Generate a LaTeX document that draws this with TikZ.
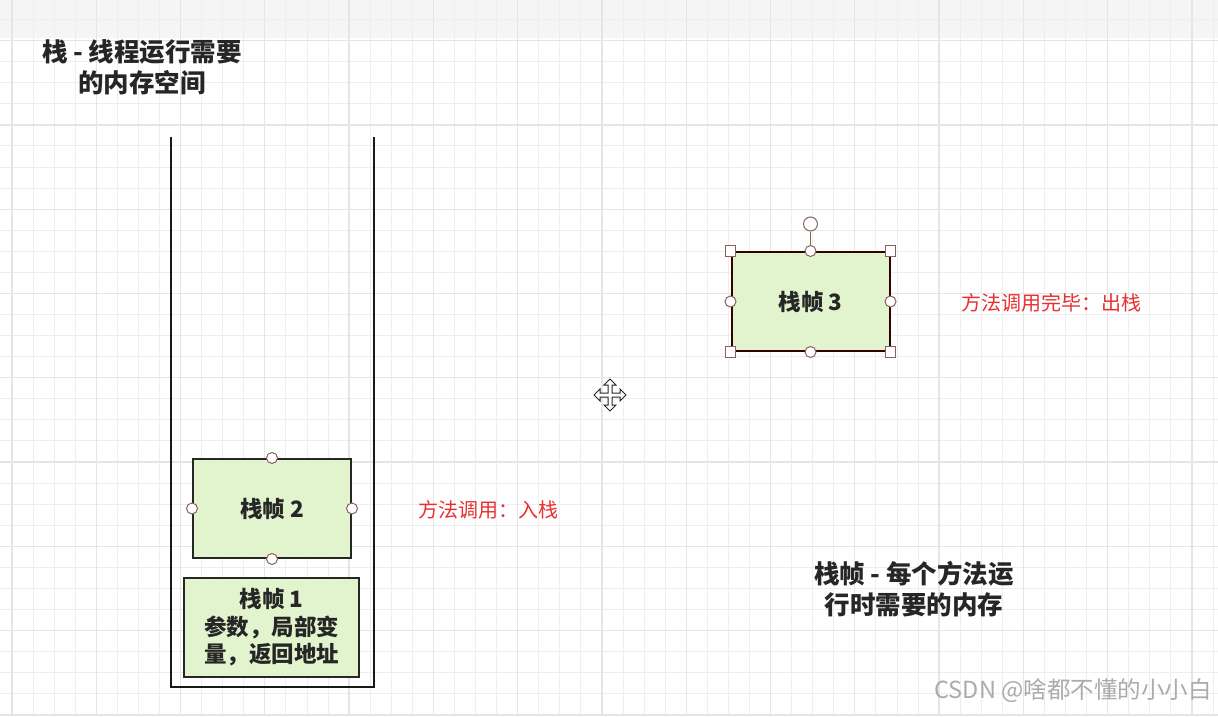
\documentclass[tikz,border=0pt]{standalone}
\usepackage{fontspec}
\setmainfont{Noto Sans CJK SC}
\usepackage{tikz}
\usetikzlibrary{positioning}
\definecolor{framefill}{RGB}{226,244,205}
\definecolor{handleline}{RGB}{140,95,95}
\definecolor{notered}{RGB}{232,48,48}
\definecolor{inkdark}{RGB}{38,38,38}
\definecolor{gridminor}{RGB}{238,238,238}
\definecolor{gridmajor}{RGB}{229,229,229}

\begin{document}
\begin{tikzpicture}[
  x=1pt, y=-1pt,
  every node/.style={inner sep=0pt},
  heading/.style={font=\fontsize{25.5}{31}\selectfont\bfseries,text=inkdark,align=center},
  frame/.style={draw=black!85,line width=2pt,fill=framefill,minimum width=158pt,
    minimum height=99pt,font=\fontsize{22.5}{27.5}\selectfont\bfseries,text=inkdark,align=center},
  handle/.style={circle,draw=handleline,fill=white,line width=1pt,minimum size=11pt},
  corner/.style={rectangle,draw=handleline,fill=white,line width=1pt,minimum size=10.5pt},
  note/.style={font=\fontsize{20}{24}\selectfont,text=notered},
  wall/.style={line width=2.2pt,draw=black!90},
  thin grid/.style={draw=gridminor,line width=0.9pt},
  thick grid/.style={draw=gridmajor,line width=1.3pt},
  cursor/.style={draw=black!85,fill=white,line width=1pt,line join=miter}
]
\useasboundingbox (0,0) rectangle (1218,716);

% Canvas
\fill[white] (0,0) rectangle (1218,716);
\fill[black!4] (0,0) rectangle (1218,38);
\foreach \k in {0,...,57}
  \draw[thin grid] ({12+21.07*\k},0) -- ({12+21.07*\k},716);
\foreach \k in {0,...,33}
  \draw[thin grid] (0,{19.5+21.07*\k}) -- (1218,{19.5+21.07*\k});
\foreach \k in {0,...,14}
  \draw[thick grid] ({12+84.28*\k},0) -- ({12+84.28*\k},716);
\foreach \k in {0,...,8}
  \draw[thick grid] (0,{40.6+84.28*\k}) -- (1218,{40.6+84.28*\k});

% Headings
\node[heading] (T)  at (142,67.5) {栈 - 线程运行需要\\的内存空间};
\node[heading] (Tf) at (914,589)  {栈帧 - 每个方法运\\行时需要的内存};

% The stack
\draw[wall] (171,137) -- (171,687) -- (374,687) -- (374,137);

% Frames in the stack
\node[frame,minimum width=175pt] (F1) at (271.5,627.5) {栈帧 1\\参数，局部变\\量，返回地址};
\node[frame] (F2) at (272,508.5) {栈帧 2};

% Frame that leaves the stack
\node[frame,draw=black!80!red] (F3) at (810.5,301.5) {栈帧 3};

% Handles of frame 2
\node[handle] (F2n) at (F2.north) {};
\node[handle] (F2s) at (F2.south) {};
\node[handle] (F2w) at (F2.west)  {};
\node[handle] (F2e) at (F2.east)  {};

% Handles of frame 3
\node[handle] (F3n) at (F3.north) {};
\node[handle] (F3s) at (F3.south) {};
\node[handle] (F3w) at (F3.west)  {};
\node[handle] (F3e) at (F3.east)  {};
\node[corner] (F3a) at (F3.north west) {};
\node[corner] (F3b) at (F3.north east) {};
\node[corner] (F3c) at (F3.south west) {};
\node[corner] (F3d) at (F3.south east) {};
\node[handle,minimum size=14pt] (R3) at (810.5,224) {};
\draw[handleline,line width=1.2pt] (F3n) -- (R3);

% Notes
\node[note] (Lpush) at (488,510) {方法调用：入栈};
\node[note] (Lpop)  at (1051,303) {方法调用完毕：出栈};

% Move cursor
\draw[cursor,shift={(610,395)}]
  (0,-16) -- (6,-10) -- (2,-10) -- (2,-2) -- (10,-2) -- (10,-6) -- (16,0)
  -- (10,6) -- (10,2) -- (2,2) -- (2,10) -- (6,10) -- (0,16) -- (-6,10)
  -- (-2,10) -- (-2,2) -- (-10,2) -- (-10,6) -- (-16,0) -- (-10,-6)
  -- (-10,-2) -- (-2,-2) -- (-2,-10) -- (-6,-10) -- cycle;

% Watermark
\node[font=\fontsize{23.5}{27}\selectfont,text=black!33] (W) at (1073,691) {CSDN @啥都不懂的小小白};

\end{tikzpicture}
\end{document}
